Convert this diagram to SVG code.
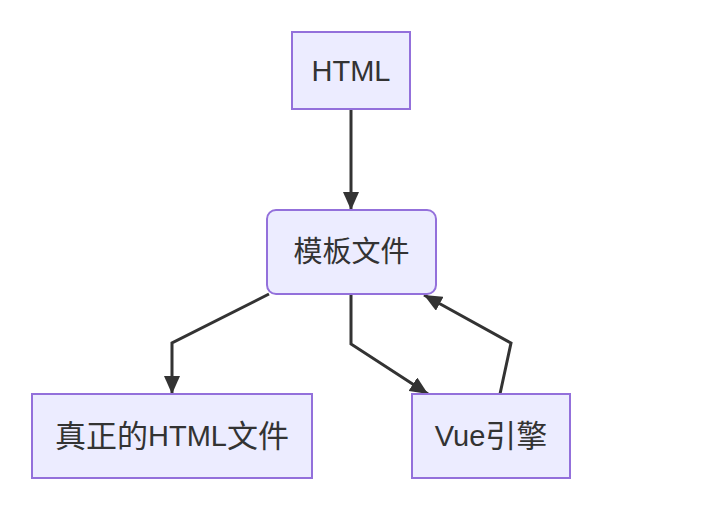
<svg xmlns="http://www.w3.org/2000/svg" width="704" height="514" viewBox="0 0 704 514">
<style>
.node rect{fill:#ECECFF;stroke:#9370DB;stroke-width:2}
.node text{font-family:"Liberation Sans","Noto Sans CJK SC",sans-serif;font-size:29px;fill:#333;text-anchor:middle;dominant-baseline:central}
.cjk{font-size:31px}
.edge{fill:none;stroke:#333;stroke-width:3}
</style>
<defs>
<marker id="ah" viewBox="0 0 18 16" refX="18" refY="8" markerWidth="18" markerHeight="16" markerUnits="userSpaceOnUse" orient="auto">
<path d="M0,0 L18,8 L0,16 z" fill="#333"/>
</marker>
</defs>
<g id="connectors">
<path class="edge" d="M351,110 L351,210" marker-end="url(#ah)"/>
<path class="edge" d="M269,294 L172,343 L172,394" marker-end="url(#ah)"/>
<path class="edge" d="M351,294 L351,344 L428,394" marker-end="url(#ah)"/>
<path class="edge" d="M500,394 L511,343 L424,295" marker-end="url(#ah)"/>
</g>
<g id="node-html" class="node"><rect x="292" y="32" width="118" height="77"/><text x="351" y="71">HTML</text></g>
<g id="node-template" class="node"><rect x="267" y="210" width="169" height="84" rx="9" ry="9"/><text x="351.5" y="252" class="cjk">模板文件</text></g>
<g id="node-real" class="node"><rect x="32" y="394" width="280" height="84"/><text x="172" y="436"><tspan class="cjk">真正的</tspan>HTML<tspan class="cjk">文件</tspan></text></g>
<g id="node-vue" class="node"><rect x="412" y="394" width="158" height="84"/><text x="491" y="436">Vue<tspan class="cjk">引擎</tspan></text></g>
</svg>
